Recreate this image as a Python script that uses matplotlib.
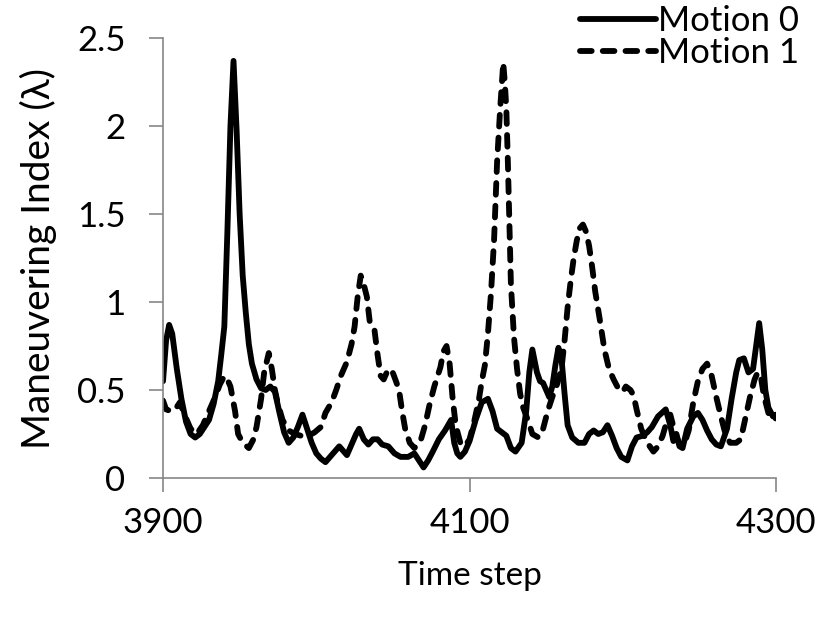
# -*- coding: utf-8 -*-
import numpy as np
import matplotlib
matplotlib.use('Agg')
import matplotlib.pyplot as plt

plt.rcParams['font.family'] = ['Lato', 'DejaVu Sans']

# Motion 0 (solid)
t0 = [3900, 3902, 3904, 3906, 3909, 3912, 3915, 3918, 3921, 3924, 3927, 3930,
      3933, 3936, 3938, 3940, 3942, 3944, 3946, 3948, 3950, 3952, 3954, 3956,
      3958, 3961, 3964, 3967, 3970, 3973, 3976, 3979, 3982, 3985, 3988, 3991,
      3994, 3997, 4000, 4003, 4006, 4009, 4012, 4015, 4018, 4020, 4023, 4026,
      4028, 4031, 4034, 4037, 4040, 4043, 4047, 4051, 4055, 4060, 4064, 4067,
      4070, 4073, 4076, 4080, 4084, 4088, 4090, 4092, 4094, 4097, 4100, 4104,
      4108, 4112, 4115, 4118, 4121, 4124, 4127, 4130, 4134, 4137, 4139, 4141,
      4144, 4146, 4148, 4150, 4152, 4154, 4156, 4158, 4160, 4162, 4164, 4167,
      4171, 4175, 4178, 4181, 4184, 4187, 4190, 4193, 4196, 4199, 4203, 4206,
      4209, 4213, 4216, 4219, 4223, 4228, 4231, 4233, 4235, 4237, 4239, 4242,
      4246, 4249, 4252, 4255, 4258, 4261, 4264, 4268, 4271, 4274, 4276, 4279,
      4282, 4285, 4287, 4289, 4291, 4293, 4295, 4298, 4300]
m0 = [0.55, 0.78, 0.87, 0.82, 0.62, 0.45, 0.32, 0.25, 0.23, 0.25, 0.29, 0.33,
      0.42, 0.55, 0.70, 0.86, 1.40, 2.00, 2.37, 1.98, 1.50, 1.15, 0.94, 0.76,
      0.65, 0.56, 0.51, 0.50, 0.52, 0.49, 0.37, 0.26, 0.20, 0.23, 0.29, 0.36,
      0.28, 0.20, 0.14, 0.11, 0.09, 0.12, 0.15, 0.18, 0.15, 0.13, 0.19, 0.25,
      0.28, 0.22, 0.19, 0.22, 0.22, 0.19, 0.18, 0.14, 0.12, 0.12, 0.14, 0.10,
      0.06, 0.10, 0.15, 0.22, 0.27, 0.33, 0.20, 0.14, 0.12, 0.15, 0.21, 0.33,
      0.43, 0.45, 0.38, 0.28, 0.26, 0.24, 0.17, 0.15, 0.20, 0.38, 0.60, 0.73,
      0.60, 0.55, 0.54, 0.50, 0.46, 0.52, 0.64, 0.74, 0.68, 0.48, 0.30, 0.23,
      0.20, 0.20, 0.25, 0.27, 0.25, 0.26, 0.30, 0.24, 0.17, 0.12, 0.10, 0.18,
      0.23, 0.24, 0.26, 0.29, 0.35, 0.39, 0.30, 0.21, 0.25, 0.18, 0.17, 0.28,
      0.35, 0.37, 0.33, 0.27, 0.22, 0.19, 0.18, 0.28, 0.45, 0.60, 0.67, 0.68,
      0.60, 0.62, 0.75, 0.88, 0.73, 0.50, 0.40, 0.35, 0.36]

# Motion 1 (dashed)
t1 = [3900, 3902, 3905, 3908, 3911, 3914, 3918, 3922, 3926, 3930, 3934, 3937,
      3940, 3942, 3944, 3947, 3949, 3952, 3956, 3959, 3961, 3964, 3966, 3969,
      3971, 3973, 3975, 3978, 3982, 3986, 3990, 3995, 3999, 4003, 4006, 4010,
      4013, 4016, 4020, 4023, 4025, 4027, 4029, 4031, 4033, 4035, 4038, 4040,
      4042, 4044, 4046, 4049, 4052, 4054, 4056, 4058, 4061, 4064, 4068, 4071,
      4074, 4077, 4081, 4083, 4085, 4087, 4089, 4091, 4094, 4097, 4100, 4103,
      4106, 4108, 4110, 4112, 4114, 4116, 4118, 4120, 4122, 4123, 4124, 4125,
      4126, 4127, 4129, 4131, 4133, 4135, 4138, 4141, 4145, 4148, 4151, 4154,
      4157, 4160, 4162, 4164, 4166, 4168, 4170, 4172, 4174, 4176, 4178, 4180,
      4182, 4185, 4188, 4191, 4194, 4197, 4200, 4202, 4205, 4207, 4209, 4212,
      4216, 4220, 4223, 4226, 4229, 4231, 4234, 4237, 4240, 4243, 4246, 4249,
      4252, 4255, 4258, 4261, 4264, 4267, 4270, 4274, 4277, 4280, 4283, 4286,
      4288, 4290, 4292, 4295, 4298, 4300]
m1 = [0.44, 0.39, 0.38, 0.39, 0.43, 0.36, 0.28, 0.25, 0.30, 0.38, 0.46, 0.53,
      0.58, 0.56, 0.52, 0.38, 0.25, 0.20, 0.17, 0.22, 0.29, 0.45, 0.60, 0.71,
      0.62, 0.50, 0.42, 0.33, 0.27, 0.25, 0.24, 0.24, 0.26, 0.29, 0.37, 0.43,
      0.50, 0.58, 0.66, 0.76, 0.86, 1.03, 1.15, 1.10, 1.03, 0.88, 0.84, 0.70,
      0.58, 0.56, 0.60, 0.62, 0.55, 0.50, 0.38, 0.28, 0.20, 0.17, 0.21, 0.30,
      0.42, 0.52, 0.63, 0.72, 0.75, 0.65, 0.45, 0.30, 0.20, 0.18, 0.22, 0.32,
      0.44, 0.55, 0.64, 0.82, 1.05, 1.35, 1.80, 2.10, 2.36, 2.25, 2.10, 1.80,
      1.45, 1.10, 0.80, 0.62, 0.48, 0.40, 0.33, 0.25, 0.23, 0.28, 0.38, 0.46,
      0.53, 0.62, 0.78, 0.97, 1.12, 1.25, 1.35, 1.42, 1.44, 1.40, 1.32, 1.20,
      1.06, 0.90, 0.73, 0.62, 0.56, 0.51, 0.49, 0.52, 0.50, 0.47, 0.39, 0.28,
      0.20, 0.15, 0.18, 0.24, 0.33, 0.36, 0.26, 0.19, 0.19, 0.27, 0.43, 0.55,
      0.62, 0.65, 0.58, 0.46, 0.35, 0.25, 0.20, 0.20, 0.22, 0.34, 0.46, 0.56,
      0.60, 0.58, 0.47, 0.37, 0.33, 0.34]

xticks = [3900, 4100, 4300]
yticks = [0, 0.5, 1, 1.5, 2, 2.5]
ytick_labels = ['0', '0.5', '1', '1.5', '2', '2.5']
labels = ['Motion 0', 'Motion 1']

axis_gray = '#868686'

fig = plt.figure(figsize=(8.2, 6.22), dpi=100, facecolor='w')
ax = fig.add_axes([0.1988, 0.2315, 0.7476, 0.7074])

ax.plot(t0, m0, color='k', lw=4.2, solid_joinstyle='round',
        solid_capstyle='round', label=labels[0])
ax.plot(t1, m1, color='k', lw=4.2, linestyle=(0, (2.0, 1.9)),
        dash_capstyle='round', dash_joinstyle='round', label=labels[1])

ax.set_xlim(3900, 4300)
ax.set_ylim(0, 2.5)
ax.set_xticks(xticks)
ax.set_xticklabels([str(v) for v in xticks])
ax.set_yticks(yticks)
ax.set_yticklabels(ytick_labels)

for side in ['top', 'right']:
    ax.spines[side].set_visible(False)
for side in ['left', 'bottom']:
    ax.spines[side].set_color(axis_gray)
    ax.spines[side].set_linewidth(1.2)

ax.tick_params(axis='both', direction='out', length=10, width=1.2,
               color=axis_gray, labelsize=25)
ax.tick_params(axis='x', pad=11)
ax.tick_params(axis='y', pad=17)

ax.set_xlabel('Time step', fontsize=24, labelpad=16)
ax.set_ylabel('Maneuvering Index (λ)', fontsize=28, labelpad=14)

# legend sits above the plot in the top-right corner
fig.legend(loc='upper right', bbox_to_anchor=(1.0, 1.025), frameon=False,
           fontsize=25, handlelength=2.2, handletextpad=0.05,
           labelspacing=0.0, borderaxespad=0.2)

fig.savefig('out.png', dpi=100, facecolor='w')
